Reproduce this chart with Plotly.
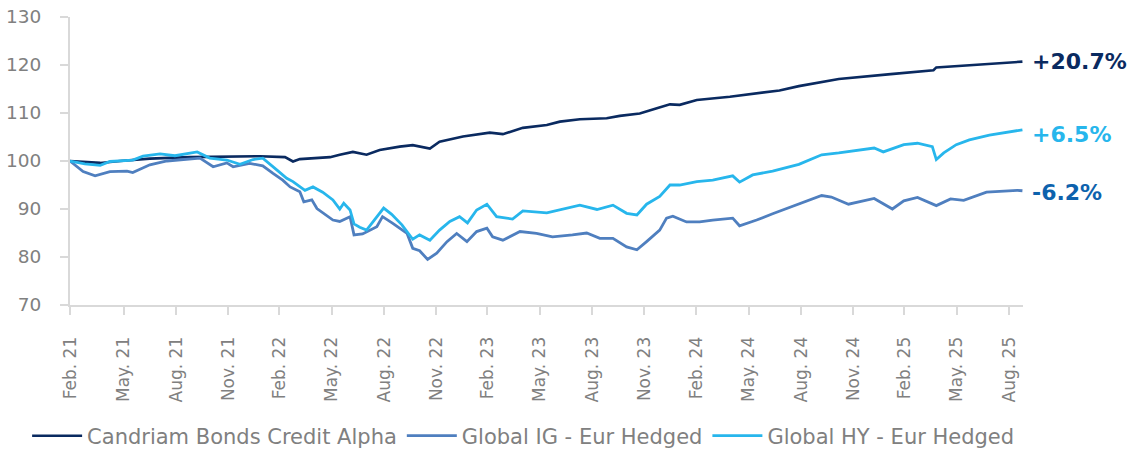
import plotly.graph_objects as go

# ---- data ----
fund_dates = ["2021-02-26","2021-03-28","2021-04-20","2021-05-25","2021-07-16","2021-09-24","2021-12-03",
              "2022-01-25","2022-03-10","2022-03-24","2022-04-05","2022-05-28","2022-06-14","2022-07-07",
              "2022-07-31","2022-08-23","2022-09-27","2022-10-20","2022-11-19","2022-12-06","2023-01-16",
              "2023-03-04","2023-03-27","2023-05-01","2023-06-12","2023-07-05","2023-08-09","2023-09-25",
              "2023-10-18","2023-11-22","2023-12-22","2024-01-14","2024-01-31","2024-03-01","2024-04-28",
              "2024-06-07","2024-07-24","2024-08-27","2024-11-05","2025-02-04","2025-04-20","2025-04-25",
              "2025-06-22","2025-09-14","2025-09-23"]
fund_values = [100.0,99.7,99.6,100.0,100.5,100.8,101.0,
               101.0,100.8,99.9,100.4,100.8,101.3,101.9,
               101.3,102.3,103.0,103.3,102.6,104.0,105.1,
               105.9,105.6,106.9,107.5,108.2,108.7,108.9,
               109.4,109.9,111.0,111.8,111.7,112.7,113.4,
               114.0,114.7,115.6,117.1,118.1,118.9,119.5,
               120.0,120.7,120.7]

hy_dates = ["2021-02-26","2021-03-24","2021-04-20","2021-05-07","2021-06-16","2021-07-04","2021-08-03",
            "2021-08-29","2021-10-07","2021-10-29","2021-11-28","2021-12-21","2022-01-13","2022-01-30",
            "2022-02-24","2022-03-13","2022-03-24","2022-04-05","2022-04-14","2022-04-28","2022-05-15",
            "2022-06-02","2022-06-14","2022-06-21","2022-07-02","2022-07-09","2022-07-19","2022-07-31",
            "2022-08-18","2022-08-30","2022-09-13","2022-10-01","2022-10-20","2022-11-01","2022-11-19",
            "2022-12-06","2022-12-24","2023-01-10","2023-01-24","2023-02-09","2023-02-27","2023-03-16",
            "2023-04-13","2023-05-01","2023-06-12","2023-07-17","2023-08-09","2023-09-08","2023-10-06",
            "2023-10-30","2023-11-17","2023-12-04","2023-12-27","2024-01-14","2024-01-31","2024-03-01",
            "2024-03-29","2024-05-03","2024-05-15","2024-06-07","2024-07-12","2024-08-27","2024-10-06",
            "2024-11-05","2025-01-06","2025-01-22","2025-02-27","2025-03-23","2025-04-18","2025-04-25",
            "2025-05-08","2025-05-30","2025-06-22","2025-07-27","2025-09-14","2025-09-23"]
hy_values = [100.0,99.4,99.1,99.9,100.2,101.0,101.5,
             101.1,101.9,100.6,100.2,99.3,100.3,100.6,
             98.1,96.4,95.7,94.6,93.9,94.6,93.5,
             91.9,90.0,91.2,89.8,86.9,86.2,85.6,
             88.4,90.2,88.9,86.7,83.7,84.6,83.5,
             85.6,87.4,88.4,87.1,89.8,91.0,88.4,
             87.9,89.6,89.2,90.1,90.8,89.9,90.8,
             89.1,88.75,91.0,92.6,95.0,95.0,95.7,
             96.0,96.9,95.6,97.1,97.9,99.3,101.3,
             101.7,102.7,101.9,103.4,103.7,103.0,100.3,
             101.7,103.4,104.4,105.4,106.4,106.5]

ig_dates = ["2021-02-26","2021-03-21","2021-04-11","2021-05-07","2021-06-06","2021-06-16","2021-07-16",
            "2021-08-15","2021-10-12","2021-11-04","2021-11-28","2021-12-09","2022-01-07","2022-01-30",
            "2022-02-17","2022-03-06","2022-03-19","2022-04-05","2022-04-12","2022-04-26","2022-05-05",
            "2022-06-02","2022-06-14","2022-07-02","2022-07-09","2022-07-24","2022-08-18","2022-08-28",
            "2022-09-15","2022-10-10","2022-10-20","2022-11-01","2022-11-15","2022-12-01","2022-12-19",
            "2023-01-05","2023-01-23","2023-02-09","2023-02-27","2023-03-09","2023-03-27","2023-04-26",
            "2023-05-25","2023-06-22","2023-07-27","2023-08-21","2023-09-13","2023-10-06","2023-10-30",
            "2023-11-17","2023-12-04","2023-12-27","2024-01-08","2024-01-19","2024-02-12","2024-03-06",
            "2024-03-29","2024-05-03","2024-05-15","2024-06-14","2024-07-12","2024-08-27","2024-10-06",
            "2024-10-23","2024-11-22","2025-01-06","2025-02-07","2025-02-27","2025-03-23","2025-04-25",
            "2025-05-20","2025-06-12","2025-07-22","2025-09-14","2025-09-23"]
ig_values = [100.0,97.8,96.9,97.8,97.9,97.6,99.2,
             100.0,100.6,98.8,99.6,98.8,99.5,99.0,
             97.4,96.0,94.6,93.6,91.5,91.9,90.1,
             87.7,87.4,88.4,84.6,84.8,86.3,88.4,
             87.0,84.9,81.8,81.3,79.5,80.8,83.2,
             84.9,83.2,85.3,86.0,84.2,83.5,85.3,
             84.9,84.2,84.6,85.0,83.9,83.9,82.1,
             81.5,83.2,85.6,88.1,88.5,87.3,87.3,
             87.7,88.1,86.5,87.7,89.0,91.0,92.8,
             92.5,91.0,92.2,90.0,91.7,92.4,90.7,
             92.1,91.8,93.5,93.9,93.8]

series_names = ["Candriam Bonds Credit Alpha", "Global IG - Eur Hedged", "Global HY - Eur Hedged"]
end_labels = ["+20.7%", "-6.2%", "+6.5%"]

tick_dates = ["2021-02-26","2021-05-31","2021-08-31","2021-11-30","2022-02-28","2022-05-31",
              "2022-08-31","2022-11-30","2023-02-28","2023-05-31","2023-08-31","2023-11-30",
              "2024-02-29","2024-05-31","2024-08-31","2024-11-30","2025-02-28","2025-05-31","2025-08-31"]
tick_labels = ["Feb. 21","May. 21","Aug. 21","Nov. 21","Feb. 22","May. 22","Aug. 22","Nov. 22",
               "Feb. 23","May. 23","Aug. 23","Nov. 23","Feb. 24","May. 24","Aug. 24","Nov. 24",
               "Feb. 25","May. 25","Aug. 25"]

# ---- styling ----
NAVY = "#0a2a60"
IG = "#4f7fbf"
HY = "#27b6ec"
IG_LABEL = "#0d62ad"
GRAY_TXT = "#808080"
AXIS = "#d9d9d9"
FONT = "DejaVu Sans, sans-serif"

fig = go.Figure()
fig.add_trace(go.Scatter(x=fund_dates, y=fund_values, name=series_names[0], mode="lines",
                         line=dict(color=NAVY, width=2.6)))
fig.add_trace(go.Scatter(x=ig_dates, y=ig_values, name=series_names[1], mode="lines",
                         line=dict(color=IG, width=2.8)))
fig.add_trace(go.Scatter(x=hy_dates, y=hy_values, name=series_names[2], mode="lines",
                         line=dict(color=HY, width=2.8)))

ann = [
    (fund_dates[-1], fund_values[-1], end_labels[0], NAVY, 0),
    (ig_dates[-1], ig_values[-1], end_labels[1], IG_LABEL, -2),
    (hy_dates[-1], hy_values[-1], end_labels[2], HY, -5),
]
for x, y, t, c, ys in ann:
    fig.add_annotation(x=x, y=y, text="<b>" + t + "</b>", showarrow=False, xanchor="left",
                       yanchor="middle", xshift=8, yshift=ys,
                       font=dict(family=FONT, size=22, color=c))

fig.update_layout(
    width=1135, height=450,
    margin=dict(l=70, r=112, t=17, b=145, autoexpand=False),
    paper_bgcolor="white", plot_bgcolor="white",
    font=dict(family=FONT, color=GRAY_TXT),
    showlegend=True,
    legend=dict(orientation="h", x=-0.045, xanchor="left", y=-0.455, yanchor="middle",
                font=dict(family=FONT, size=21, color=GRAY_TXT), itemwidth=50,
                tracegroupgap=0),
)
fig.update_xaxes(range=["2021-02-26", "2025-09-24"], tickvals=tick_dates, ticktext=tick_labels,
                 tickangle=-90, showgrid=False, showline=True, linecolor=AXIS, linewidth=2,
                 ticks="outside", ticklen=8, tickcolor=AXIS, tickwidth=2, ticklabelstandoff=15,
                 tickfont=dict(family=FONT, size=17, color=GRAY_TXT), zeroline=False)
fig.update_yaxes(range=[70, 130], dtick=10, showgrid=False, showline=True, linecolor=AXIS,
                 linewidth=2, ticks="outside", ticklen=8, tickcolor=AXIS, tickwidth=2,
                 ticklabelstandoff=15,
                 tickfont=dict(family=FONT, size=18.5, color=GRAY_TXT), zeroline=False)

fig.write_html("out.html", config={"displayModeBar": False},
               post_script="document.body.style.margin='0';")
